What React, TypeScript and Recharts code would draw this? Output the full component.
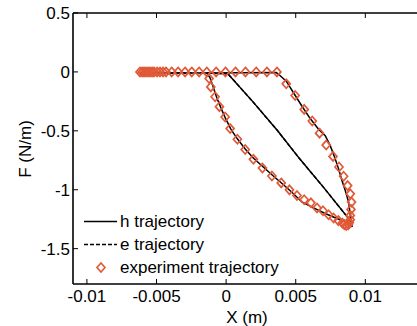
import { ScatterChart, Scatter, XAxis, YAxis, Legend } from 'recharts';

const ORANGE = '#e05a38';
const FONT = '"Liberation Sans", Arial, sans-serif';

// tick labels
const xTicks = [-0.01, -0.005, 0, 0.005, 0.01];
const yTicks = [-1.5, -1, -0.5, 0, 0.5];

// black trajectory pieces
const topLine = [
  { x: -0.0062, y: -0.01 },
  { x: -0.0014, y: -0.01 },
  { x: 0.00017, y: -0.015 },
];
const diagonal = [
  { x: 0.00017, y: -0.022 },
  { x: 0.0019, y: -0.25 },
  { x: 0.0037, y: -0.5 },
  { x: 0.0053, y: -0.74 },
  { x: 0.007, y: -0.98 },
  { x: 0.0087, y: -1.23 },
  { x: 0.00905, y: -1.315 },
];
const rightBranch = [
  { x: 0.0036, y: -0.006 },
  { x: 0.00377, y: -0.02 },
  { x: 0.00432, y: -0.079 },
  { x: 0.00484, y: -0.177 },
  { x: 0.00544, y: -0.289 },
  { x: 0.00604, y: -0.396 },
  { x: 0.00664, y: -0.486 },
  { x: 0.00712, y: -0.542 },
  { x: 0.00748, y: -0.626 },
  { x: 0.00784, y: -0.739 },
  { x: 0.00808, y: -0.823 },
  { x: 0.00832, y: -0.921 },
  { x: 0.00856, y: -1.006 },
  { x: 0.0088, y: -1.104 },
  { x: 0.00892, y: -1.216 },
  { x: 0.00905, y: -1.315 },
];
const leftBranch = [
  { x: -0.00139, y: -0.01 },
  { x: -0.00115, y: -0.051 },
  { x: -0.00091, y: -0.135 },
  { x: -0.00067, y: -0.219 },
  { x: -0.00038, y: -0.303 },
  { x: -0.00007, y: -0.388 },
  { x: 0.00034, y: -0.486 },
  { x: 0.00082, y: -0.57 },
  { x: 0.00137, y: -0.654 },
  { x: 0.00197, y: -0.733 },
  { x: 0.00269, y: -0.809 },
  { x: 0.00341, y: -0.885 },
  { x: 0.00412, y: -0.958 },
  { x: 0.00484, y: -1.034 },
  { x: 0.00544, y: -1.104 },
  { x: 0.00628, y: -1.154 },
  { x: 0.00712, y: -1.202 },
  { x: 0.00796, y: -1.244 },
  { x: 0.00868, y: -1.278 },
  { x: 0.00895, y: -1.305 },
];

// h: along the top, diagonal down, up the right branch, back along the top, down the left branch
const hTrajectory = [
  ...topLine,
  ...diagonal,
  ...[...rightBranch].reverse(),
  { x: -0.00139, y: -0.01 },
  ...leftBranch,
];
// e: lies on top of h in the figure
const eTrajectory = [...topLine, ...diagonal];

// experiment markers
const expTopX = [
  -0.00619, -0.00604, -0.0059, -0.00576, -0.00561, -0.00547, -0.00532, -0.00518, -0.00496,
  -0.00475, -0.00453, -0.00432, -0.00391, -0.00345, -0.00295, -0.00247, -0.00194, -0.00139,
  -0.00072, -0.00005, 0.00067, 0.00139, 0.00216, 0.00293, 0.00365,
];
const expRight = [
  { x: 0.00432, y: -0.101 },
  { x: 0.00496, y: -0.2 },
  { x: 0.00561, y: -0.318 },
  { x: 0.00619, y: -0.417 },
  { x: 0.00671, y: -0.52 },
  { x: 0.00719, y: -0.621 },
  { x: 0.00768, y: -0.717 },
  { x: 0.00811, y: -0.807 },
  { x: 0.00844, y: -0.886 },
  { x: 0.00873, y: -0.965 },
  { x: 0.00892, y: -1.035 },
  { x: 0.00901, y: -1.105 },
  { x: 0.00897, y: -1.167 },
  { x: 0.00892, y: -1.218 },
  { x: 0.00892, y: -1.254 },
  { x: 0.00885, y: -1.279 },
  { x: 0.00878, y: -1.296 },
  { x: 0.00863, y: -1.304 },
  { x: 0.00849, y: -1.296 },
];
const expLeft = [
  { x: 0.00835, y: -1.283 },
  { x: 0.00806, y: -1.262 },
  { x: 0.00772, y: -1.24 },
  { x: 0.00736, y: -1.212 },
  { x: 0.00696, y: -1.178 },
  { x: 0.00653, y: -1.155 },
  { x: 0.00609, y: -1.111 },
  { x: 0.00561, y: -1.085 },
  { x: 0.00509, y: -1.049 },
  { x: 0.00455, y: -1.001 },
  { x: 0.00396, y: -0.942 },
  { x: 0.00329, y: -0.883 },
  { x: 0.00261, y: -0.816 },
  { x: 0.00196, y: -0.742 },
  { x: 0.00137, y: -0.658 },
  { x: 0.00081, y: -0.571 },
  { x: 0.00029, y: -0.481 },
  { x: -0.00007, y: -0.383 },
  { x: -0.00048, y: -0.295 },
  { x: -0.00079, y: -0.211 },
  { x: -0.0011, y: -0.127 },
  { x: -0.00122, y: -0.056 },
];
const experiment = [...expTopX.map((x) => ({ x, y: 0 })), ...expRight, ...expLeft];

const Diamond = (props: any) => {
  const { cx, cy } = props;
  if (cx == null || cy == null) return <g />;
  return (
    <polygon
      points={`${cx},${cy - 4.5} ${cx + 4},${cy} ${cx},${cy + 4.5} ${cx - 4},${cy}`}
      fill="none"
      stroke={ORANGE}
      strokeWidth={1.7}
    />
  );
};

const NoDot = () => <g />;

const legendRows = [
  { label: 'h trajectory', kind: 'solid' },
  { label: 'e trajectory', kind: 'dashed' },
  { label: 'experiment trajectory', kind: 'diamond' },
];

function LegendBox() {
  return (
    <div style={{ fontFamily: FONT, fontSize: 17, color: '#000' }}>
      {legendRows.map((r) => (
        <div key={r.label} style={{ display: 'flex', alignItems: 'center', height: 23 }}>
          <svg width={36} height={23} style={{ display: 'block' }}>
            {r.kind === 'solid' && <line x1={0} y1={11.5} x2={33} y2={11.5} stroke="#000" strokeWidth={1.5} />}
            {r.kind === 'dashed' && (
              <line x1={0} y1={11.5} x2={33} y2={11.5} stroke="#000" strokeWidth={1.5} strokeDasharray="4 2" />
            )}
            {r.kind === 'diamond' && (
              <polygon points="17,7 21,11.5 17,16 13,11.5" fill="none" stroke={ORANGE} strokeWidth={1.7} />
            )}
          </svg>
          <span style={{ whiteSpace: 'nowrap' }}>{r.label}</span>
        </div>
      ))}
    </div>
  );
}

export default function App() {
  const tickStyle = { fontFamily: FONT, fontSize: 17, fill: '#000' };
  return (
    <div style={{ position: 'absolute', left: 0, top: 0, width: 417, height: 326, overflow: 'hidden', background: '#fff' }}>
      <ScatterChart width={421} height={326} margin={{ top: 12, right: 0, bottom: 2, left: 13 }}>
        <XAxis
          type="number"
          dataKey="x"
          domain={[-0.011, 0.014]}
          ticks={xTicks}
          interval={0}
          allowDataOverflow
          height={40}
          tickSize={-5}
          tickMargin={11}
          tick={tickStyle}
          axisLine={{ stroke: '#000', strokeWidth: 1.6 }}
          tickLine={{ stroke: '#000', strokeWidth: 1 }}
          label={{ value: 'X (m)', position: 'insideBottom', offset: 1, style: tickStyle }}
        />
        <XAxis
          xAxisId="top"
          orientation="top"
          type="number"
          dataKey="x"
          domain={[-0.011, 0.014]}
          ticks={xTicks}
          interval={0}
          allowDataOverflow
          height={1}
          tickSize={-5}
          tickFormatter={() => ''}
          axisLine={{ stroke: '#000', strokeWidth: 1.6 }}
          tickLine={{ stroke: '#000', strokeWidth: 1 }}
        />
        <YAxis
          type="number"
          dataKey="y"
          domain={[-1.8, 0.5]}
          ticks={yTicks}
          interval={0}
          allowDataOverflow
          width={60}
          tickSize={-5}
          tickMargin={8}
          tick={tickStyle}
          axisLine={{ stroke: '#000', strokeWidth: 1.6 }}
          tickLine={{ stroke: '#000', strokeWidth: 1 }}
          label={{
            content: () => (
              <text
                x={31}
                y={149}
                textAnchor="middle"
                transform="rotate(-90, 31, 149)"
                style={tickStyle}
              >
                F (N/m)
              </text>
            ),
          }}
        />
        <Legend
          layout="vertical"
          align="center"
          verticalAlign="middle"
          wrapperStyle={{ left: 84, top: 210, width: 'auto' }}
          content={() => <LegendBox />}
        />
        <Scatter
          name="e trajectory"
          data={eTrajectory}
          line={{ stroke: '#000', strokeWidth: 1.5, strokeDasharray: '4 2' }}
          lineType="joint"
          shape={NoDot}
          isAnimationActive={false}
        />
        <Scatter
          name="h trajectory"
          data={hTrajectory}
          line={{ stroke: '#000', strokeWidth: 1.5 }}
          lineType="joint"
          shape={NoDot}
          isAnimationActive={false}
        />
        <Scatter
          name="experiment trajectory"
          data={experiment}
          shape={Diamond}
          isAnimationActive={false}
        />
      </ScatterChart>
    </div>
  );
}
